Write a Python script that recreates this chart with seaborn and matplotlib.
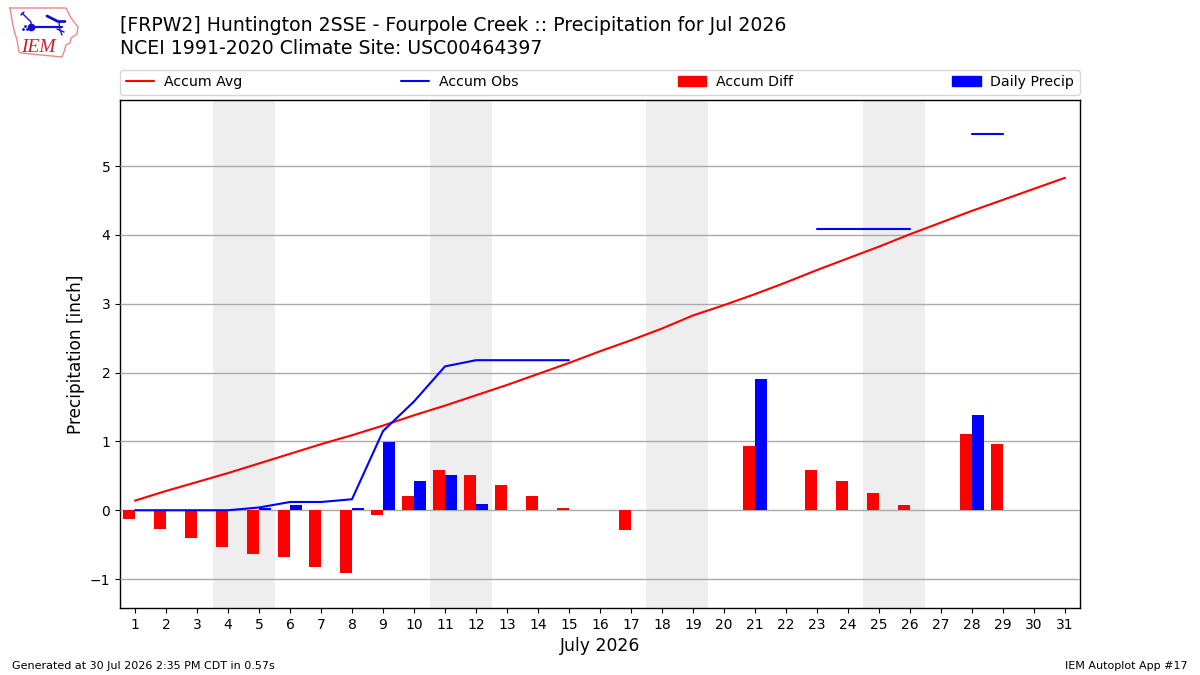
import numpy as np
import pandas as pd
import matplotlib
matplotlib.use("Agg")
import matplotlib.pyplot as plt
from matplotlib.patches import Patch
import seaborn as sns

days = list(range(1, 32))
accum_avg = [0.14, 0.28, 0.41, 0.54, 0.68, 0.82, 0.96, 1.09, 1.23, 1.38, 1.52, 1.67, 1.82, 1.98, 2.14, 2.31,
             2.47, 2.64, 2.83, 2.98, 3.14, 3.31, 3.49, 3.66, 3.83, 4.01, 4.18, 4.35, 4.51, 4.67, 4.83]
accum_obs = [0.0, 0.0, 0.0, 0.0, 0.04, 0.12, 0.12, 0.16, 1.15, 1.58, 2.09, 2.18, 2.18, 2.18, 2.18,
             None, None, None, None, None, None, None, 4.08, 4.08, 4.08, 4.08, None, 5.46, 5.46, None, None]
accum_diff = [-0.13, -0.27, -0.40, -0.53, -0.64, -0.68, -0.82, -0.91, -0.07, 0.21, 0.58, 0.51, 0.36, 0.20, 0.04,
              None, -0.28, None, None, None, 0.94, None, 0.59, 0.42, 0.25, 0.07, None, 1.11, 0.96, None, None]
daily_precip = [None, None, None, None, 0.04, 0.08, None, 0.04, 0.99, 0.43, 0.51, 0.09, None, None, None, None,
                None, None, None, None, 1.90, None, None, None, None, None, None, 1.38, None, None, None]
weekends = [(3.5, 5.5), (10.5, 12.5), (17.5, 19.5), (24.5, 26.5)]

RED, BLUE = "#ff0000", "#0000ff"

sns.set_theme(style="ticks", font="DejaVu Sans", rc={
    "axes.edgecolor": "black", "axes.labelcolor": "black", "text.color": "black",
    "xtick.color": "black", "ytick.color": "black", "axes.linewidth": 1.0,
    "xtick.major.size": 3.5, "ytick.major.size": 3.5, "xtick.major.width": 0.8, "ytick.major.width": 0.8,
    "xtick.labelsize": 10, "ytick.labelsize": 10, "axes.labelsize": 12,
})

fig = plt.figure(figsize=(12, 6.75), dpi=100)
ax = fig.add_axes([120 / 1200, 1 - 608 / 675, 960 / 1200, 508 / 675])

for start, end in weekends:
    ax.axvspan(start, end, color="#eeeeee", lw=0, zorder=1)
ax.yaxis.grid(True, color="#aaaaaa", lw=1, zorder=1.5)
ax.set_axisbelow(False)

# Paired daily bars: departure to the left of each day, rainfall to the right
bars = pd.concat([
    pd.DataFrame({"day": days, "value": accum_diff, "series": "Accum Diff"}),
    pd.DataFrame({"day": days, "value": daily_precip, "series": "Daily Precip"}),
]).dropna()
sns.barplot(data=bars, x="day", y="value", hue="series", hue_order=["Accum Diff", "Daily Precip"],
            palette=[RED, BLUE], native_scale=True, width=0.8, gap=0, dodge=True, saturation=1,
            legend=False, errorbar=None, linewidth=0, zorder=3, ax=ax)

# Accumulated curves; the observed one breaks wherever a day has no report
avg = pd.DataFrame({"day": days, "value": accum_avg})
sns.lineplot(data=avg, x="day", y="value", color=RED, lw=1.5, estimator=None, zorder=4, ax=ax)
obs = pd.DataFrame({"day": days, "value": pd.to_numeric(pd.Series(accum_obs))})
obs["run"] = obs["value"].isna().cumsum()
sns.lineplot(data=obs.dropna(), x="day", y="value", units="run", estimator=None, color=BLUE, lw=1.5,
             zorder=4, ax=ax)

ax.set_xlim(0.516, 31.484)
ax.set_ylim(-1.42, 5.96)
ax.set_xticks(days)
ax.set_xticklabels([str(d) for d in days])
ax.set_yticks(range(-1, 6))
ax.set_xlabel("July 2026", fontsize=12.4, labelpad=4)
ax.set_ylabel("Precipitation [inch]", fontsize=12.2, labelpad=3.5)

handles = [plt.Line2D([], [], color=RED, lw=1.5), plt.Line2D([], [], color=BLUE, lw=1.5),
           Patch(color=RED), Patch(color=BLUE)]
ax.legend(handles, ["Accum Avg", "Accum Obs", "Accum Diff", "Daily Precip"], ncol=4, mode="expand",
          loc="lower left", bbox_to_anchor=(0, 1 + 5 / 508, 1, 0.05), borderaxespad=0, fontsize=10.15,
          handletextpad=0.7, frameon=True, edgecolor="#cccccc", framealpha=0.8)

fig.text(120 / 1200, 1 - 31 / 675, "[FRPW2] Huntington 2SSE - Fourpole Creek :: Precipitation for Jul 2026",
         fontsize=13.6, va="baseline")
fig.text(120 / 1200, 1 - 54 / 675, "NCEI 1991-2020 Climate Site: USC00464397", fontsize=13.6, va="baseline")
fig.text(12 / 1200, 1 - 669 / 675, "Generated at 30 Jul 2026 2:35 PM CDT in 0.57s", fontsize=8.05, va="baseline")
fig.text(1188 / 1200, 1 - 669 / 675, "IEM Autoplot App #17", fontsize=8, va="baseline", ha="right")

# Station network emblem in the top-left corner
logo = fig.add_axes([0, 1 - 60 / 675, 85 / 1200, 60 / 675])
logo.set_xlim(0, 85)
logo.set_ylim(60, 0)
logo.axis("off")
state_x = [10, 66, 69, 71, 78, 77, 71, 70, 66, 64, 62, 21, 19, 17, 14, 12, 10]
state_y = [8, 8, 14, 18, 27, 34, 38, 43, 45, 52, 57, 53, 52, 40, 30, 20, 8]
logo.plot(state_x, state_y, color="#e88a8a", lw=1)
logo.plot([31, 62], [27, 27], color="#1010d0", lw=1.6)
logo.plot([22, 31, 31], [13, 22, 27], color="#1010d0", lw=1)
logo.plot([21, 24], [15, 12], color="#1010d0", lw=1)
logo.plot([47, 58, 65], [16, 21.5, 21.5], color="#1010d0", lw=2)
logo.plot([59, 60, 62], [22, 30, 35], color="#1010d0", lw=1)
logo.plot([57, 64], [29, 32], color="#1010d0", lw=1)
logo.plot([31], [27], "o", color="#1010d0", ms=4.5)
logo.plot([23, 25, 27], [29, 26, 29], ".", color="#1010d0", ms=2)
logo.text(21, 52, "IEM", color="#c8202a", fontsize=14, family="Liberation Serif", style="italic", va="baseline")

fig.savefig("out.png", dpi=100)
